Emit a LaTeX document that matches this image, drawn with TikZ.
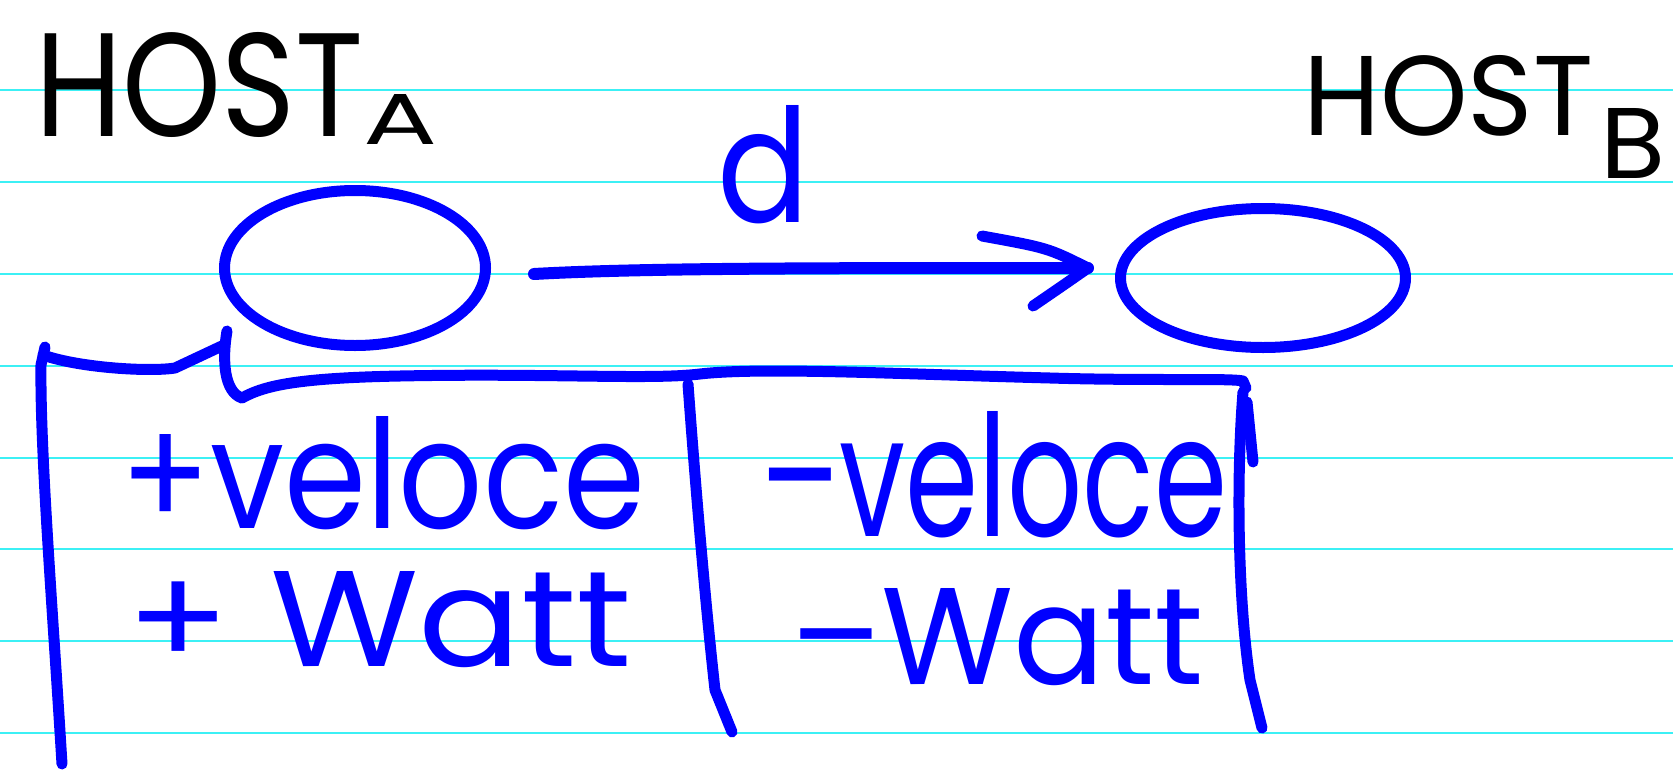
\documentclass[tikz,border=0pt]{standalone}
\usepackage{fontspec}
\setmainfont{Poppins}
\usepackage{graphicx}
\usetikzlibrary{shapes.geometric,calc}
\definecolor{ink}{RGB}{0,0,255}
\definecolor{ruleline}{RGB}{60,240,245}
\newcommand{\fitbox}[3]{\resizebox{#1pt}{#2pt}{#3}}
\begin{document}
\begin{tikzpicture}[x=1pt,y=-1pt,
  paperline/.style={ruleline, line width=2pt},
  pen/.style={ink, line width=11pt, line cap=round, line join=round},
  txt/.style={inner sep=0pt, outer sep=0pt, anchor=south west},
  host/.style={txt, text=black},
  note/.style={txt, text=ink},
  hostcircle/.style={draw=ink, line width=11pt, ellipse, inner sep=0pt}]
\useasboundingbox (0,0) rectangle (1673,771);
\fill[white] (0,0) rectangle (1673,771);
\foreach \y in {90,182,274,366,458,549,641,733} \draw[paperline] (0,\y) -- (1673,\y);

% headings
\node[host] (hostA) at (35,138) {\fitbox{328}{104}{HOST}};
\node[host] (hostAsub) at (363,144) {\fitbox{74}{50}{A}};
\node[host] (hostB) at (1303,136) {\fitbox{290}{80}{HOST}};
\node[host] (hostBsub) at (1600,178) {\fitbox{65}{70}{B}};

% hosts
\node[hostcircle, minimum width=261pt, minimum height=155pt] (hA) at (355,268) {};
\node[hostcircle, minimum width=285pt, minimum height=139pt] (hB) at (1263,278) {};

% arrow
\draw[pen, line width=12pt] ($(hA.east)+(43,6)$) .. controls ($(hA.east)+(150,0)$) and ($(hB.west)+(-300,-10)$) .. ($(hB.west)+(-27,-10)$) coordinate (tip);
\draw[pen] ($(tip)+(-106,-32)$) .. controls ($(tip)+(-40,-20)$) .. (tip)
  .. controls ($(tip)+(-20,14)$) .. ($(tip)+(-55,38)$);
\node[note] (dlab) at (717,224) {\fitbox{92}{117}{d}};

% table
\coordinate (tl) at (45,347);
\coordinate (bl) at (62,764);
\coordinate (ell) at (227,331);
\coordinate (tm) at (688,384);
\coordinate (bm) at (732,732);
\coordinate (tr) at (1243,392);
\coordinate (br) at (1262,728);
\draw[pen] (bl) .. controls (52,600) and (40,450) .. (41,365) -- (tl);
\draw[pen] (43,355) .. controls (80,368) and (150,372) .. (175,368) -- (224,345);
\draw[pen] (ell) .. controls (222,360) and (224,392) .. (242,398);
\draw[pen] (242,398) .. controls (265,385) and (300,378) .. (400,376)
  .. controls (550,373) and (650,380) .. (700,374)
  .. controls (760,367) and (900,374) .. (1050,378)
  .. controls (1150,381) and (1230,378) .. (1243,381) -- (1246,388);
\draw[pen] (tm) .. controls (695,480) and (705,600) .. (715,690) -- (bm);
\draw[pen] (tr) .. controls (1236,480) and (1238,600) .. (1250,680) -- (br);
\draw[pen] (1247,402) -- (1253,462);

% entries
\node[note] (plusv) at (120,530) {\fitbox{525}{112}{+veloce}};
\node[note] (minv) at (760,538) {\fitbox{467}{125}{–veloce}};
\node[note] (plusw) at (126,668) {\fitbox{506}{95}{+ Watt}};
\node[note] (minw) at (790,686) {\fitbox{414}{96}{–Watt}};
\end{tikzpicture}
\end{document}
